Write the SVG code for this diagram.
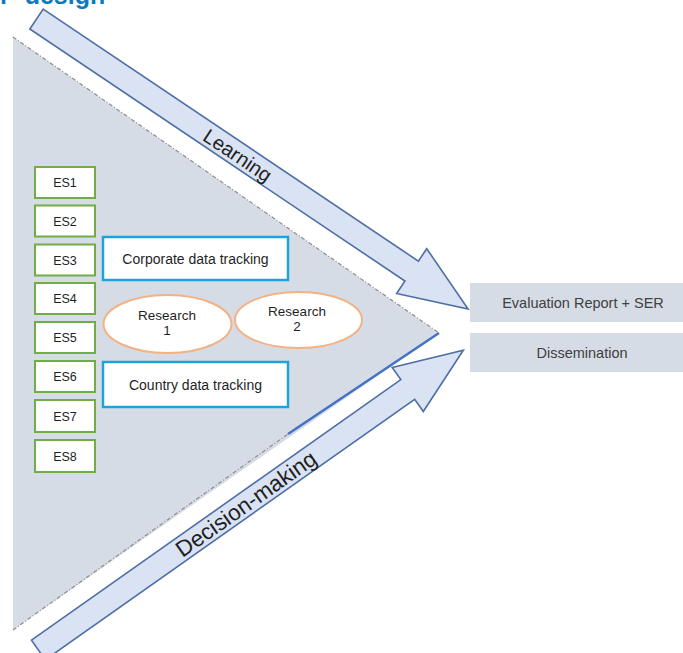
<svg xmlns="http://www.w3.org/2000/svg" width="683" height="653" viewBox="0 0 683 653">
  <style>
    .lbl { font-family: "Liberation Sans", Arial, sans-serif; fill: #1f1f1f; text-anchor: middle; }
    .es rect { fill: #ffffff; stroke: #70AD47; stroke-width: 2; }
    .track rect { fill: #ffffff; stroke: #1CA3DD; stroke-width: 2.5; }
    .research ellipse { fill: #ffffff; stroke: #F4B183; stroke-width: 2; }
    .out rect { fill: #D6DCE5; }
    .out text { fill: #404040; }
    .flow path { fill: #DAE3F3; stroke: #4E6EA6; stroke-width: 1.6; stroke-linejoin: miter; }
    .edge { fill: none; stroke: #8C8C8C; stroke-width: 1.2; stroke-dasharray: 4 2 1 2; }
  </style>

  <rect width="683" height="653" fill="#ffffff"/>

  <!-- heading, clipped at the top edge -->
  <text x="0" y="4" font-family="Liberation Sans, Arial, sans-serif" font-weight="bold" font-size="25" fill="#0A7BC2" word-spacing="8">r design</text>

  <!-- evaluation funnel -->
  <g id="funnel">
    <polygon points="13,37 439,333 13,630" fill="#D6DCE5"/>
    <line class="edge" x1="13" y1="37" x2="439" y2="333"/>
    <line class="edge" x1="13" y1="630" x2="288" y2="434"/>
    <line x1="288" y1="434" x2="439" y2="333" stroke="#4472C4" stroke-width="2.5"/>
  </g>

  <!-- block arrows -->
  <g id="flow-arrows" class="flow">
    <g id="arrow-learning" transform="translate(36.5,19) rotate(33.9)">
      <path d="M0,-12 L452,-12 L452,-27 L520,0 L452,27 L452,12 L0,12 Z"/>
      <text class="lbl" x="243" y="8" font-size="20">Learning</text>
    </g>
    <g id="arrow-decision" transform="translate(38.4,650) rotate(-35.2)">
      <path d="M0,-12 L452,-12 L452,-27 L520,0 L452,27 L452,12 L0,12 Z"/>
      <text class="lbl" x="254" y="8" font-size="22.5">Decision-making</text>
    </g>
  </g>

  <!-- evaluation studies -->
  <g id="es1" class="es"><rect x="35" y="167" width="60" height="31"/><text class="lbl" x="65" y="187" font-size="12.5">ES1</text></g>
  <g id="es2" class="es"><rect x="35" y="205.5" width="60" height="31"/><text class="lbl" x="65" y="225.5" font-size="12.5">ES2</text></g>
  <g id="es3" class="es"><rect x="35" y="244.5" width="60" height="31"/><text class="lbl" x="65" y="264.5" font-size="12.5">ES3</text></g>
  <g id="es4" class="es"><rect x="35" y="283" width="60" height="31"/><text class="lbl" x="65" y="303" font-size="12.5">ES4</text></g>
  <g id="es5" class="es"><rect x="35" y="322" width="60" height="31"/><text class="lbl" x="65" y="342" font-size="12.5">ES5</text></g>
  <g id="es6" class="es"><rect x="35" y="361" width="60" height="31"/><text class="lbl" x="65" y="381" font-size="12.5">ES6</text></g>
  <g id="es7" class="es"><rect x="35" y="400" width="60" height="32"/><text class="lbl" x="65" y="420.5" font-size="12.5">ES7</text></g>
  <g id="es8" class="es"><rect x="35" y="440" width="60" height="32"/><text class="lbl" x="65" y="460.5" font-size="12.5">ES8</text></g>

  <!-- data tracking -->
  <g id="corporate-tracking" class="track">
    <rect x="103" y="237" width="185" height="43"/>
    <text class="lbl" x="195.5" y="263.5" font-size="14">Corporate data tracking</text>
  </g>
  <g id="country-tracking" class="track">
    <rect x="103" y="362" width="185" height="45"/>
    <text class="lbl" x="195.5" y="390" font-size="14">Country data tracking</text>
  </g>

  <!-- research -->
  <g id="research-1" class="research">
    <ellipse cx="167.5" cy="324" rx="64" ry="29"/>
    <text class="lbl" x="167" y="320" font-size="13.5">Research</text>
    <text class="lbl" x="167" y="335" font-size="13.5">1</text>
  </g>
  <g id="research-2" class="research">
    <ellipse cx="298.5" cy="320" rx="63.5" ry="28"/>
    <text class="lbl" x="297" y="316" font-size="13.5">Research</text>
    <text class="lbl" x="297" y="330.5" font-size="13.5">2</text>
  </g>

  <!-- outputs -->
  <g id="evaluation-report" class="out">
    <rect x="470" y="283" width="220" height="39"/>
    <text class="lbl" x="583" y="307.5" font-size="14.5">Evaluation Report + SER</text>
  </g>
  <g id="dissemination" class="out">
    <rect x="470" y="333" width="220" height="39"/>
    <text class="lbl" x="582" y="357.5" font-size="14.5">Dissemination</text>
  </g>
</svg>
